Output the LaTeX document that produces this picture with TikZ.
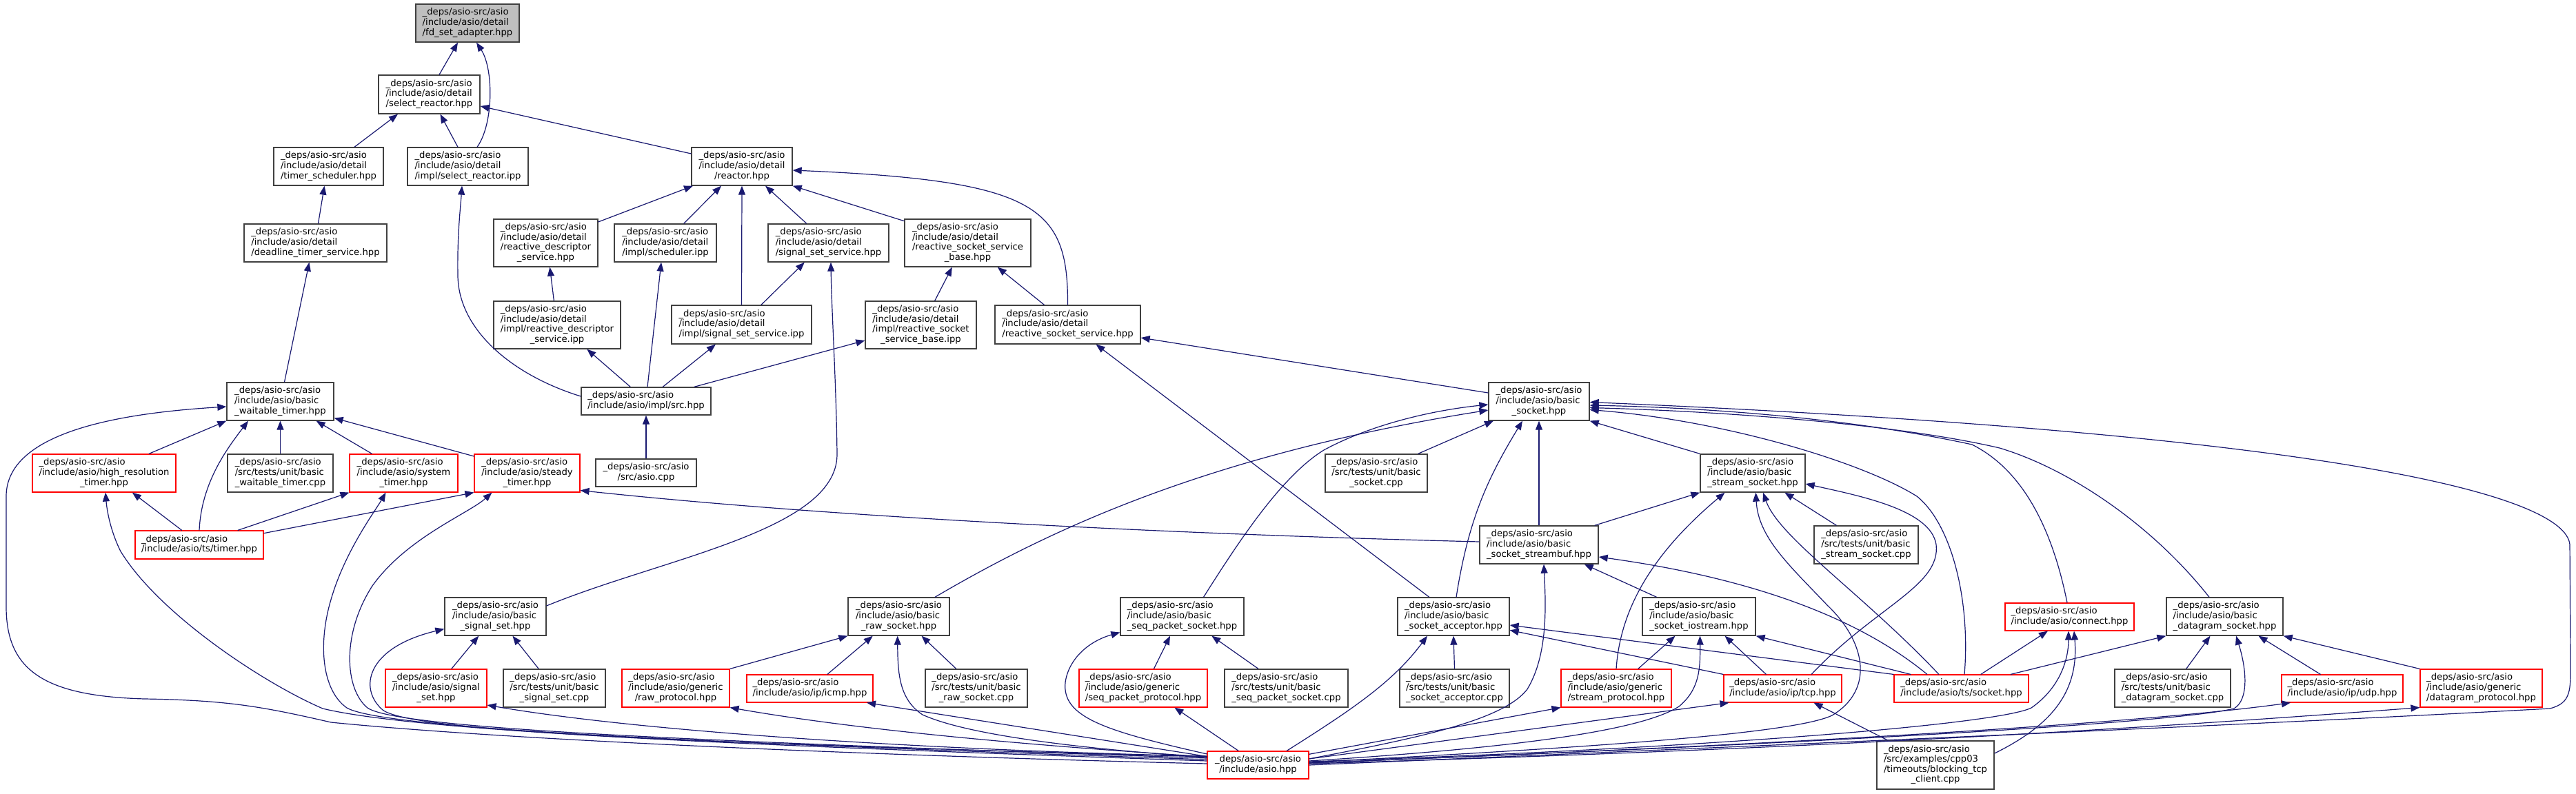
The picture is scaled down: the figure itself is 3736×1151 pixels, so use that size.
\documentclass[tikz,border=0pt]{standalone}
\usepackage{fontspec}
\newfontfamily\dvs{DejaVu Sans}
\usetikzlibrary{arrows.meta}
\definecolor{edgeblue}{RGB}{25,25,112}
\definecolor{bordergray}{RGB}{64,64,64}
\definecolor{rootfill}{RGB}{191,191,191}
\newcommand\dfont{\dvs\fontsize{13.2pt}{14.6pt}\selectfont}
\newcommand\lb[2]{\begin{tabular}{@{}l@{}}#1\\\multicolumn{1}{@{}c@{}}{#2}\end{tabular}}
\newcommand\DA{\_deps/asio-src/asio}
\newcommand\nd[6]{\node[#1,minimum width=#4pt,minimum height=#5pt] (#2) at (#3) {#6};}
\tikzset{
  box/.style={draw=bordergray, line width=1.3pt, fill=white, inner sep=0pt, font=\dfont},
  redbox/.style={box, draw=red, line width=1.1pt},
  rootbox/.style={box, fill=rootfill},
  edge/.style={draw=edgeblue, line width=1.2pt, -{Triangle[length=13pt,width=10pt]}},
}
\begin{document}
\begin{tikzpicture}[x=1pt,y=-1pt]
\useasboundingbox (0,0) rectangle (3736,1151);
\fill[white] (0,0) rectangle (3736,1151);
% nodes
\nd{rootbox}{fd}{678,33.5}{150}{55}{\lb{\DA\\/include/asio/detail}{/fd\_set\_adapter.hpp}}
\nd{box}{selr}{622.5,137}{147}{56}{\lb{\DA\\/include/asio/detail}{/select\_reactor.hpp}}
\nd{box}{tsch}{476.5,241.5}{159}{55}{\lb{\DA\\/include/asio/detail}{/timer\_scheduler.hpp}}
\nd{box}{selipp}{678.5,241.5}{175}{55}{\lb{\DA\\/include/asio/detail}{/impl/select\_reactor.ipp}}
\nd{box}{dts}{457.5,352.5}{207}{55}{\lb{\DA\\/include/asio/detail}{/deadline\_timer\_service.hpp}}
\nd{box}{rds}{791.5,352.5}{151}{69}{\lb{\DA\\/include/asio/detail\\/reactive\_descriptor}{\_service.hpp}}
\nd{box}{reactor}{1076,241.5}{146}{55}{\lb{\DA\\/include/asio/detail}{/reactor.hpp}}
\nd{box}{schipp}{965,352.5}{148}{55}{\lb{\DA\\/include/asio/detail}{/impl/scheduler.ipp}}
\nd{box}{sss}{1201.5,352.5}{175}{55}{\lb{\DA\\/include/asio/detail}{/signal\_set\_service.hpp}}
\nd{box}{rssb}{1403.5,352.5}{183}{69}{\lb{\DA\\/include/asio/detail\\/reactive\_socket\_service}{\_base.hpp}}
\nd{box}{rdsipp}{808,471.5}{184}{69}{\lb{\DA\\/include/asio/detail\\/impl/reactive\_descriptor}{\_service.ipp}}
\nd{box}{ssipp}{1075.5,471}{203}{56}{\lb{\DA\\/include/asio/detail}{/impl/signal\_set\_service.ipp}}
\nd{box}{rssbipp}{1335.5,471.5}{161}{69}{\lb{\DA\\/include/asio/detail\\/impl/reactive\_socket}{\_service\_base.ipp}}
\nd{box}{rss}{1548.5,471}{211}{56}{\lb{\DA\\/include/asio/detail}{/reactive\_socket\_service.hpp}}
\nd{box}{src}{937,582}{188}{40}{\lb{\DA}{/include/asio/impl/src.hpp}}
\nd{box}{asiocpp}{937,686}{146}{40}{\lb{\DA}{/src/asio.cpp}}
\nd{box}{bwt}{406.5,582.5}{155}{55}{\lb{\DA\\/include/asio/basic}{\_waitable\_timer.hpp}}
\nd{redbox}{hrt}{151,686.5}{208}{55}{\lb{\DA\\/include/asio/high\_resolution}{\_timer.hpp}}
\nd{box}{bwtcpp}{406.5,686.5}{153}{55}{\lb{\DA\\/src/tests/unit/basic}{\_waitable\_timer.cpp}}
\nd{redbox}{syst}{585.5,686.5}{157}{55}{\lb{\DA\\/include/asio/system}{\_timer.hpp}}
\nd{redbox}{stdt}{764.5,686.5}{153}{55}{\lb{\DA\\/include/asio/steady}{\_timer.hpp}}
\nd{redbox}{tstimer}{289,790.5}{186}{41}{\lb{\DA}{/include/asio/ts/timer.hpp}}
\nd{box}{bsock}{2232,582.5}{146}{55}{\lb{\DA\\/include/asio/basic}{\_socket.hpp}}
\nd{box}{bsockcpp}{1996,686.5}{148}{55}{\lb{\DA\\/src/tests/unit/basic}{\_socket.cpp}}
\nd{box}{bss}{2542,686.5}{152}{55}{\lb{\DA\\/include/asio/basic}{\_stream\_socket.hpp}}
\nd{box}{sbuf}{2232,790.5}{172}{55}{\lb{\DA\\/include/asio/basic}{\_socket\_streambuf.hpp}}
\nd{box}{bsscpp}{2706.5,790.5}{151}{55}{\lb{\DA\\/src/tests/unit/basic}{\_stream\_socket.cpp}}
\nd{box}{bsig}{718.5,894.5}{147}{55}{\lb{\DA\\/include/asio/basic}{\_signal\_set.hpp}}
\nd{redbox}{sigset}{632.5,998.5}{147}{55}{\lb{\DA\\/include/asio/signal}{\_set.hpp}}
\nd{box}{bsigcpp}{804,998.5}{148}{55}{\lb{\DA\\/src/tests/unit/basic}{\_signal\_set.cpp}}
\nd{redbox}{rawp}{980,998.5}{156}{55}{\lb{\DA\\/include/asio/generic}{/raw\_protocol.hpp}}
\nd{box}{braw}{1303.5,894.5}{147}{55}{\lb{\DA\\/include/asio/basic}{\_raw\_socket.hpp}}
\nd{redbox}{icmp}{1174.5,999}{183}{40}{\lb{\DA}{/include/asio/ip/icmp.hpp}}
\nd{box}{brawcpp}{1416,998.5}{148}{55}{\lb{\DA\\/src/tests/unit/basic}{\_raw\_socket.cpp}}
\nd{box}{bseq}{1714.5,894.5}{179}{55}{\lb{\DA\\/include/asio/basic}{\_seq\_packet\_socket.hpp}}
\nd{redbox}{seqp}{1658,998.5}{186}{55}{\lb{\DA\\/include/asio/generic}{/seq\_packet\_protocol.hpp}}
\nd{box}{bseqcpp}{1865.5,998.5}{179}{55}{\lb{\DA\\/src/tests/unit/basic}{\_seq\_packet\_socket.cpp}}
\nd{redbox}{asio}{1824.5,1110}{147}{40}{\lb{\DA}{/include/asio.hpp}}
\nd{box}{bacc}{2108,894.5}{162}{55}{\lb{\DA\\/include/asio/basic}{\_socket\_acceptor.hpp}}
\nd{box}{bacccpp}{2109.5,998.5}{159}{55}{\lb{\DA\\/src/tests/unit/basic}{\_socket\_acceptor.cpp}}
\nd{box}{bios}{2464,894.5}{164}{55}{\lb{\DA\\/include/asio/basic}{\_socket\_iostream.hpp}}
\nd{redbox}{streamp}{2344,998.5}{160}{55}{\lb{\DA\\/include/asio/generic}{/stream\_protocol.hpp}}
\nd{redbox}{tcp}{2585.5,999}{171}{40}{\lb{\DA}{/include/asio/ip/tcp.hpp}}
\nd{redbox}{tssock}{2844.5,999}{195}{40}{\lb{\DA}{/include/asio/ts/socket.hpp}}
\nd{redbox}{connect}{3001.5,895}{187}{40}{\lb{\DA}{/include/asio/connect.hpp}}
\nd{box}{bdg}{3226.5,894.5}{169}{55}{\lb{\DA\\/include/asio/basic}{\_datagram\_socket.hpp}}
\nd{box}{bdgcpp}{3151,998.5}{168}{55}{\lb{\DA\\/src/tests/unit/basic}{\_datagram\_socket.cpp}}
\nd{redbox}{udp}{3397,999}{176}{40}{\lb{\DA}{/include/asio/ip/udp.hpp}}
\nd{redbox}{dgp}{3598.5,998.5}{177}{55}{\lb{\DA\\/include/asio/generic}{/datagram\_protocol.hpp}}
\nd{box}{btc}{2807,1110}{170}{70}{\lb{\DA\\/src/examples/cpp03\\/timeouts/blocking\_tcp}{\_client.cpp}}
% edges
\draw[edge] ([xshift=14.5pt]selr.north) -- ([xshift=-14pt]fd.south);
\draw[edge] ([xshift=13.5pt]selipp.north) .. controls (716,180) and (716,100) .. ([xshift=13pt]fd.south);
\draw[edge] ([xshift=37.5pt]tsch.north) -- ([xshift=-45.5pt]selr.south);
\draw[edge] ([xshift=-14.5pt]selipp.north) -- ([xshift=16pt]selr.south);
\draw[edge] ([yshift=18.5pt]reactor.west) -- ([yshift=-17pt]selr.east);
\draw[edge] ([xshift=4pt]dts.north) -- ([xshift=-6pt]tsch.south);
\draw[edge] ([yshift=7pt]src.west) .. controls (745,545) and (665,480) .. (664,400) .. controls (663,340) and (668,300) .. ([xshift=-8.5pt]selipp.south);
\draw[edge] ([xshift=6pt]bwt.north) -- ([xshift=-9pt]dts.south);
\draw[edge] ([yshift=30.5pt]rds.east) -- ([xshift=-71pt]reactor.south);
\draw[edge] ([xshift=26.7pt]schipp.north) -- ([xshift=-30pt]reactor.south);
\draw[edge] (ssipp.north) -- (reactor.south);
\draw[edge] ([xshift=-31.7pt]sss.north) -- ([xshift=34pt]reactor.south);
\draw[edge] ([yshift=31.8pt]rssb.west) -- (reactor.south east);
\draw[edge] (rss.north) .. controls (1549,300) and (1505,262) .. ([yshift=-5.5pt]reactor.east);
\draw[edge] ([xshift=-4.6pt]rdsipp.north) -- ([xshift=5.9pt]rds.south);
\draw[edge] ([xshift=28.4pt]ssipp.north) -- ([xshift=-34.7pt]sss.south);
\draw[edge] ([yshift=15.5pt]bsig.east) .. controls (960,810) and (1213,770) .. (1214,660) .. controls (1213,560) and (1206,450) .. ([xshift=3.5pt]sss.south);
\draw[edge] ([xshift=20.2pt]rssbipp.north) -- ([xshift=-22.7pt]rssb.south);
\draw[edge] ([xshift=-34pt]rss.north) -- ([xshift=43.3pt]rssb.south);
\draw[edge] ([xshift=-22.7pt]src.north) -- ([xshift=43.3pt]rdsipp.south);
\draw[edge] ([xshift=2pt]src.north) -- ([xshift=-6pt]schipp.south);
\draw[edge] ([xshift=24.2pt]src.north) -- ([xshift=-37.6pt]ssipp.south);
\draw[edge] ([xshift=69.7pt]src.north) -- ([yshift=-22.5pt]rssbipp.west);
\draw[edge] (asiocpp.north) -- (src.south);
\draw[edge] ([yshift=12.5pt]bsock.west) -- ([yshift=-19pt]rss.east);
\draw[edge] ([xshift=-35.2pt]bacc.north) -- ([xshift=41pt]rss.south);
% timers
\draw[edge] ([xshift=64.8pt]hrt.north) -- (bwt.south west);
\draw[edge] (tstimer.north) .. controls (292,700) and (330,650) .. ([xshift=-46.5pt]bwt.south);
\draw[edge] (bwtcpp.north) -- (bwt.south);
\draw[edge] ([xshift=-45.9pt]syst.north) -- ([xshift=52.1pt]bwt.south);
\draw[edge] ([yshift=24.5pt]stdt.west) -- ([yshift=-24pt]bwt.east);
\draw[edge] ([yshift=2pt]asio.west) .. controls (1300,1097) and (750,1075) .. (480,1048) .. controls (380,1025) and (330,1016) .. (210,1014) .. controls (60,1010) and (9,970) .. (9,880) -- (9,720) .. controls (9,620) and (200,598) .. ([yshift=-7.5pt]bwt.west);
\draw[edge] ([yshift=6pt]asio.west) .. controls (1200,1085) and (620,1065) .. (468,1028) .. controls (380,990) and (230,890) .. (175,800) .. controls (160,770) and (155,740) .. ([xshift=2pt]hrt.south);
\draw[edge] ([yshift=8pt]asio.west) .. controls (1100,1080) and (560,1060) .. (503,1027) .. controls (465,1000) and (462,930) .. (480,870) .. controls (500,800) and (545,740) .. ([xshift=-26pt]syst.south);
\draw[edge] ([yshift=10pt]asio.west) .. controls (1100,1078) and (580,1060) .. (533,1027) .. controls (500,1000) and (495,920) .. (540,850) .. controls (590,780) and (680,745) .. ([xshift=-51pt]stdt.south);
\draw[edge] ([xshift=-25.2pt]tstimer.north) -- ([xshift=40.8pt]hrt.south);
\draw[edge] ([xshift=55.7pt]tstimer.north) -- (syst.south west);
\draw[edge] ([yshift=16.8pt]tstimer.east) -- (stdt.south west);
\draw[edge] ([yshift=4.5pt]sbuf.west) .. controls (1700,775) and (1200,750) .. ([yshift=-25pt]stdt.east);
% signal set
\draw[edge] ([xshift=22.2pt]sigset.north) -- ([xshift=-24.3pt]bsig.south);
\draw[edge] ([xshift=-22.8pt]bsigcpp.north) -- ([xshift=24.9pt]bsig.south);
\draw[edge] ([yshift=12pt]asio.west) .. controls (1100,1080) and (600,1065) .. (555,1030) .. controls (520,1000) and (530,940) .. ([yshift=-18pt]bsig.west);
\draw[edge] ([yshift=13pt]asio.west) .. controls (1400,1090) and (950,1065) .. ([yshift=-24.5pt]sigset.east);
% raw socket
\draw[edge] (rawp.north east) -- (braw.south west);
\draw[edge] ([xshift=25.3pt]icmp.north) -- ([xshift=-37.8pt]braw.south);
\draw[edge] ([xshift=-29.2pt]brawcpp.north) -- ([xshift=33pt]braw.south);
\draw[edge] ([yshift=11pt]asio.west) .. controls (1550,1085) and (1400,1065) .. (1338,1037) .. controls (1305,1015) and (1302,980) .. ([xshift=-1.8pt]braw.south);
\draw[edge] ([yshift=12.5pt]asio.west) -- ([xshift=82.5pt]icmp.south);
\draw[edge] ([yshift=12pt]asio.west) .. controls (1500,1082) and (1250,1060) .. (rawp.south east);
% seq packet
\draw[edge] ([xshift=15.4pt]seqp.north) -- ([xshift=-17.5pt]bseq.south);
\draw[edge] ([xshift=-40.5pt]bseqcpp.north) -- ([xshift=42.8pt]bseq.south);
\draw[edge] ([yshift=16pt]asio.west) .. controls (1600,1060) and (1540,1040) .. (1545,990) .. controls (1550,955) and (1580,930) .. ([yshift=-23pt]bseq.west);
\draw[edge] ([xshift=-28.2pt]asio.north) -- ([xshift=45.4pt]seqp.south);
% acceptor
\draw[edge] ([xshift=4pt]bacc.north) .. controls (2130,750) and (2160,690) .. ([xshift=-24pt]bsock.south);
\draw[edge] (bacccpp.north) -- (bacc.south);
\draw[edge] ([xshift=41.5pt]asio.north) .. controls (1960,1030) and (2020,990) .. ([xshift=-38pt]bacc.south);
\draw[edge] (tssock.north west) -- ([yshift=-12.5pt]bacc.east);
\draw[edge] (tcp.north west) -- ([yshift=-19.8pt]bacc.east);
% streambuf
\draw[edge] (sbuf.north) -- (bsock.south);
\draw[edge] ([xshift=80.6pt]sbuf.north) -- (bss.south west);
\draw[edge] ([xshift=-61.4pt]bios.north) -- ([xshift=65.7pt]sbuf.south);
\draw[edge] ([yshift=9pt]asio.east) .. controls (2060,1070) and (2180,1045) .. (2215,1000) .. controls (2245,950) and (2242,880) .. ([xshift=7pt]sbuf.south);
\draw[edge] ([xshift=-49.5pt]tssock.north) .. controls (2700,900) and (2550,840) .. ([yshift=-17.5pt]sbuf.east);
% iostream
\draw[edge] ([xshift=31.6pt]streamp.north) -- ([xshift=-34.5pt]bios.south);
\draw[edge] ([yshift=6pt]asio.east) .. controls (2200,1085) and (2380,1060) .. (2435,1025) .. controls (2465,1000) and (2466,970) .. ([xshift=1.5pt]bios.south);
\draw[edge] ([xshift=-24pt]tcp.north) -- ([xshift=37.5pt]bios.south);
\draw[edge] ([xshift=-73.2pt]tssock.north) -- (bios.south east);
\draw[edge] ([yshift=15.7pt]asio.east) -- (streamp.south west);
\draw[edge] ([yshift=9pt]asio.east) -- ([xshift=-78pt]tcp.south);
% stream socket
\draw[edge] (streamp.north) .. controls (2350,880) and (2400,800) .. ([xshift=-40.5pt]bss.south);
\draw[edge] (bss.north west) -- (bsock.south east);
\draw[edge] ([xshift=-43pt]bsscpp.north) -- ([xshift=46.4pt]bss.south);
\draw[edge] ([yshift=4pt]asio.east) .. controls (2300,1085) and (2600,1065) .. (2657,1038) .. controls (2720,1000) and (2705,930) .. (2650,878) .. controls (2595,820) and (2550,780) .. ([xshift=4.4pt]bss.south);
\draw[edge] ([xshift=-32.5pt]tssock.north) .. controls (2700,860) and (2580,780) .. ([xshift=15pt]bss.south);
\draw[edge] ([xshift=41.5pt]tcp.north) .. controls (2720,880) and (2815,850) .. (2808,790) .. controls (2800,740) and (2700,720) .. ([yshift=-15.5pt]bss.east);
% basic socket
\draw[edge] ([xshift=60.6pt]bsockcpp.north) -- ([xshift=-66pt]bsock.south);
\draw[edge] ([xshift=52.5pt]braw.north) .. controls (1520,770) and (1750,660) .. ([yshift=-12.5pt]bsock.west);
\draw[edge] ([xshift=31pt]bseq.north) .. controls (1800,780) and (1860,690) .. (1920,653) .. controls (1990,615) and (2080,595) .. ([yshift=-4.5pt]bsock.west);
\draw[edge] (asio.east) .. controls (2600,1080) and (3300,1050) .. (3698,1028) .. controls (3730,1020) and (3728,1000) .. (3728,960) -- (3727,790) .. controls (3720,720) and (3400,630) .. ([yshift=-1pt]bsock.east);
\draw[edge] ([xshift=-3.5pt]connect.north) .. controls (2975,760) and (2930,680) .. (2860,645) .. controls (2700,610) and (2500,592) .. ([yshift=-5.5pt]bsock.east);
\draw[edge] ([xshift=-22.5pt]bdg.north) .. controls (3120,760) and (3000,680) .. (2900,650) .. controls (2750,615) and (2500,597) .. ([yshift=-9pt]bsock.east);
\draw[edge] ([xshift=4.5pt]tssock.north) .. controls (2858,870) and (2830,760) .. (2780,720) .. controls (2700,670) and (2500,610) .. ([yshift=-12pt]bsock.east);
% connect
\draw[edge] ([xshift=28.2pt]tssock.north) -- ([xshift=-31.6pt]connect.south);
\draw[edge] ([yshift=5pt]asio.east) .. controls (2500,1085) and (2900,1050) .. (2946,1027) .. controls (2985,1000) and (3000,960) .. ([xshift=-1.5pt]connect.south);
\draw[edge] ([yshift=17pt]btc.east) .. controls (2980,1050) and (3015,1000) .. ([xshift=6.5pt]connect.south);
\draw[edge] ([xshift=-68.7pt]btc.north) -- ([xshift=45pt]tcp.south);
% datagram
\draw[edge] ([xshift=71.4pt]tssock.north) -- (bdg.south west);
\draw[edge] ([xshift=19.7pt]bdgcpp.north) -- ([xshift=-21pt]bdg.south);
\draw[edge] ([yshift=3pt]asio.east) .. controls (2600,1080) and (3150,1050) .. (3240,1028) .. controls (3262,1015) and (3258,970) .. ([xshift=16.5pt]bdg.south);
\draw[edge] ([xshift=-31.5pt]udp.north) -- ([xshift=49pt]bdg.south);
\draw[edge] (dgp.north west) -- (bdg.south east);
\draw[edge] ([yshift=3pt]asio.east) .. controls (2600,1080) and (3100,1050) .. ([xshift=-75pt]udp.south);
\draw[edge] ([yshift=2pt]asio.east) .. controls (2700,1085) and (3200,1050) .. (dgp.south west);
\end{tikzpicture}
\end{document}
